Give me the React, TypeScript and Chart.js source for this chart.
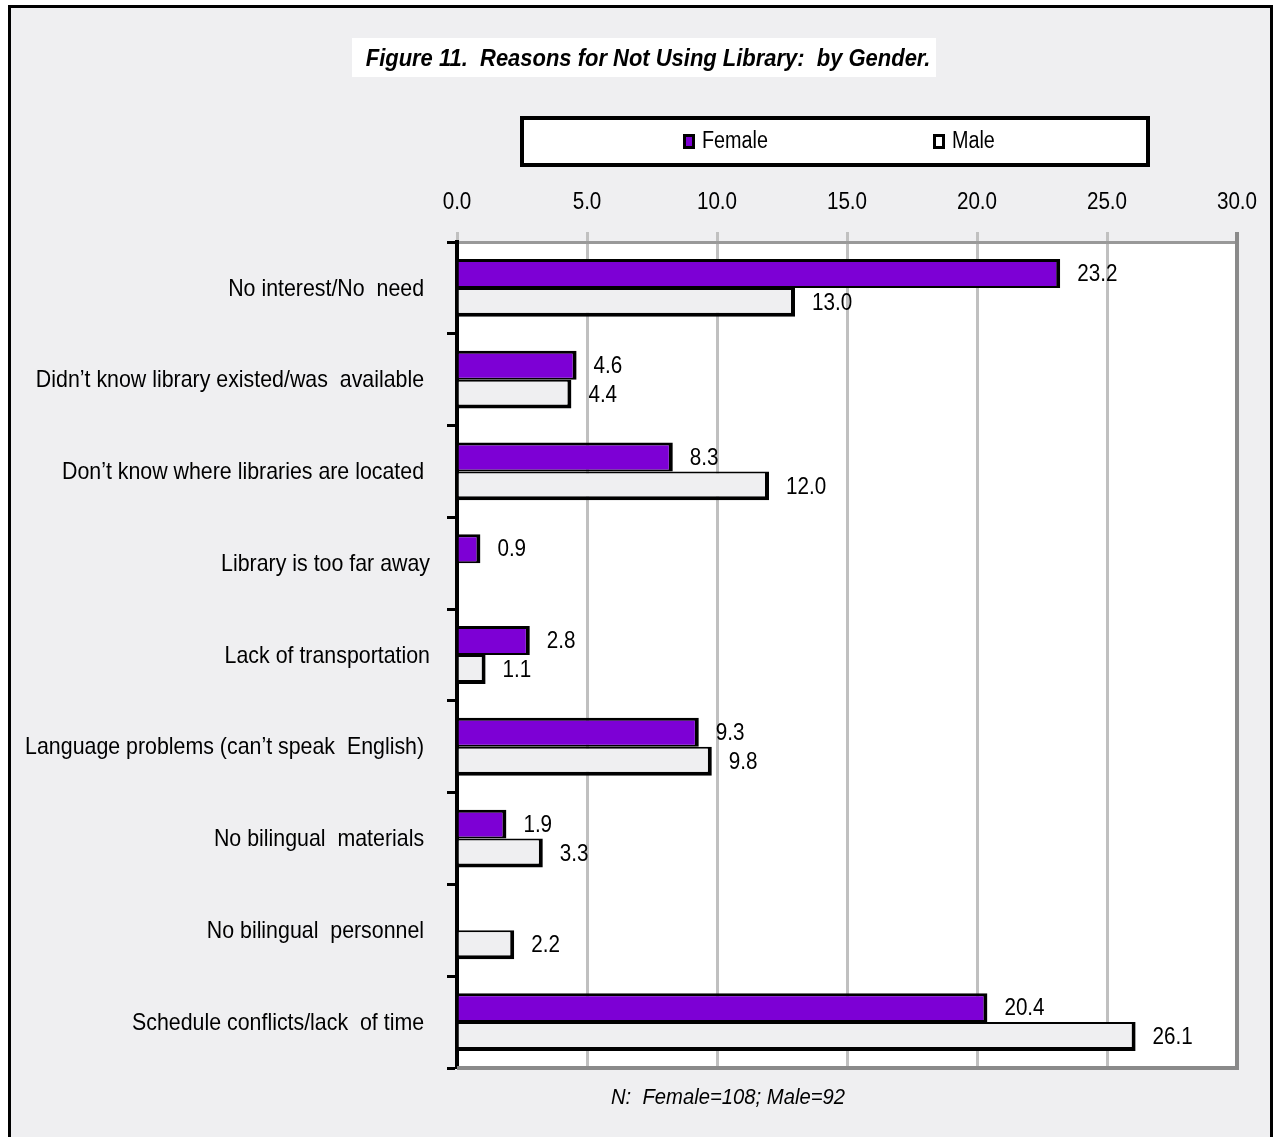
import React, { useEffect, useRef } from 'react';
import { Chart, registerables } from 'chart.js';

Chart.register(...registerables);

// Survey categories (trailing spaces keep the label alignment of the original layout)
const categories = [
  'No interest/No  need ',
  'Didn’t know library existed/was  available ',
  'Don’t know where libraries are located ',
  'Library is too far away',
  'Lack of transportation',
  'Language problems (can’t speak  English) ',
  'No bilingual  materials ',
  'No bilingual  personnel ',
  'Schedule conflicts/lack  of time ',
];

// Percent of respondents giving each reason
const femaleValues: (number | null)[] = [23.2, 4.6, 8.3, 0.9, 2.8, 9.3, 1.9, null, 20.4];
const maleValues: (number | null)[] = [13.0, 4.4, 12.0, null, 1.1, 9.8, 3.3, 2.2, 26.1];

const seriesNames = ['Female', 'Male'];
const axisMin = 0;
const axisMax = 30;
const axisStep = 5;

const titleText = 'Figure 11.  Reasons for Not Using Library:  by Gender.';
const noteText = 'N:  Female=108; Male=92';

// Arial-metric face, squeezed horizontally to give a narrow look
const FONT = '"Liberation Sans", Arial, sans-serif';
const SQUEEZE = 0.86;
const PURPLE = '#7D00D5';
const PANEL = '#EFEFF1';

function narrowText(
  ctx: CanvasRenderingContext2D,
  text: string,
  x: number,
  y: number,
  font: string,
  align: CanvasTextAlign,
  squeeze = SQUEEZE,
) {
  ctx.save();
  ctx.translate(x, y);
  ctx.scale(squeeze, 1);
  ctx.font = font;
  ctx.textAlign = align;
  ctx.textBaseline = 'middle';
  ctx.fillStyle = '#000';
  ctx.fillText(text, 0, 0);
  ctx.restore();
}

const decorations = {
  id: 'decorations',
  beforeDraw(chart: any) {
    const { ctx, chartArea } = chart;
    ctx.save();
    // outer frame
    ctx.fillStyle = '#FFFFFF';
    ctx.fillRect(0, 0, chart.width, chart.height);
    ctx.fillStyle = PANEL;
    ctx.fillRect(9.5, 6.5, 1262, 1140);
    ctx.strokeStyle = '#000';
    ctx.lineWidth = 3;
    ctx.strokeRect(9.5, 6.5, 1262, 1140);
    // plot background
    ctx.fillStyle = '#FFFFFF';
    ctx.fillRect(chartArea.left, chartArea.top, chartArea.right - chartArea.left, chartArea.bottom - chartArea.top);
    ctx.restore();
  },
  afterDatasetsDraw(chart: any) {
    const { ctx, chartArea } = chart;
    ctx.save();
    // right and bottom plot edges
    ctx.strokeStyle = '#8A8A8A';
    ctx.lineWidth = 4;
    ctx.beginPath();
    ctx.moveTo(chartArea.right, chartArea.top - 10);
    ctx.lineTo(chartArea.right, chartArea.bottom);
    ctx.lineTo(chartArea.left, chartArea.bottom);
    ctx.stroke();
    ctx.restore();

    // value labels at the bar ends
    chart.data.datasets.forEach((ds: any, di: number) => {
      const meta = chart.getDatasetMeta(di);
      meta.data.forEach((bar: any, i: number) => {
        const v = ds.data[i];
        if (v === null || v === undefined) return;
        narrowText(ctx, Number(v).toFixed(1), bar.x + 17, bar.y + 1, `24px ${FONT}`, 'left');
      });
    });
  },
  afterDraw(chart: any) {
    const { ctx } = chart;
    const xs = chart.scales.x;
    const ys = chart.scales.y;

    // value axis labels along the top
    xs.ticks.forEach((t: any) => {
      narrowText(ctx, Number(t.value).toFixed(1), xs.getPixelForValue(t.value), 202, `24px ${FONT}`, 'center');
    });
    // category labels
    chart.data.labels.forEach((lab: string, i: number) => {
      narrowText(ctx, lab, ys.left + ys.width - 27, ys.getPixelForTick(i) + 1, `24px ${FONT}`, 'right', 0.89);
    });

    ctx.save();
    // title box
    ctx.fillStyle = '#FFFFFF';
    ctx.fillRect(352, 38, 584, 39);
    ctx.restore();
    narrowText(ctx, titleText, 648, 59, `italic bold 24px ${FONT}`, 'center', 0.915);

    // legend box
    ctx.save();
    ctx.fillStyle = '#FFFFFF';
    ctx.fillRect(522, 118, 626, 47);
    ctx.strokeStyle = '#000';
    ctx.lineWidth = 4;
    ctx.strokeRect(522, 118, 626, 47);
    const entries = [
      { x: 683, ds: chart.data.datasets[0] },
      { x: 933, ds: chart.data.datasets[1] },
    ];
    entries.forEach((e) => {
      ctx.fillStyle = '#000';
      ctx.fillRect(e.x, 134, 12, 15);
      ctx.fillStyle = e.ds.backgroundColor === PANEL ? '#FFFFFF' : e.ds.backgroundColor;
      ctx.fillRect(e.x + 3, 137, 6, 9);
    });
    ctx.restore();
    entries.forEach((e) => {
      narrowText(ctx, e.ds.label, e.x + 19, 142, `23px ${FONT}`, 'left');
    });

    // sample size note
    narrowText(ctx, noteText, 728, 1098, `italic 22px ${FONT}`, 'center', 0.92);
  },
};

export default function App() {
  const ref = useRef<HTMLCanvasElement>(null);

  useEffect(() => {
    const canvas = ref.current;
    if (!canvas) return;
    const chart = new Chart(canvas, {
      type: 'bar',
      data: {
        labels: categories,
        datasets: [
          {
            label: seriesNames[0],
            data: femaleValues,
            backgroundColor: PURPLE,
            borderColor: '#000',
            borderWidth: { top: 3, right: 4, bottom: 2, left: 0 },
            borderSkipped: false,
            categoryPercentage: 0.63,
            barPercentage: 1.0,
          },
          {
            label: seriesNames[1],
            data: maleValues,
            backgroundColor: PANEL,
            borderColor: '#000',
            borderWidth: { top: 2, right: 4, bottom: 4, left: 0 },
            borderSkipped: false,
            categoryPercentage: 0.63,
            barPercentage: 1.0,
          },
        ],
      },
      options: {
        indexAxis: 'y',
        responsive: false,
        animation: false,
        devicePixelRatio: 1,
        layout: { padding: { left: 0, right: 38, top: 0, bottom: 69 } },
        plugins: {
          legend: { display: false },
          title: { display: false },
          tooltip: { enabled: false },
        },
        scales: {
          x: {
            position: 'top',
            min: axisMin,
            max: axisMax,
            ticks: {
              display: false,
              stepSize: axisStep,
            },
            grid: {
              color: (c: any) => (c.tick && c.tick.value === axisMax ? '#8A8A8A' : '#C0C0C0'),
              lineWidth: 3,
              tickLength: 10,
            },
            border: { color: '#999999', width: 3 },
            afterFit: (s: any) => {
              s.height = 242;
            },
          },
          y: {
            z: 1,
            ticks: {
              display: false,
              autoSkip: false,
            },
            grid: {
              drawOnChartArea: false,
              drawTicks: true,
              tickLength: 10,
              tickColor: '#000',
              tickWidth: 3,
              offset: true,
            },
            border: { color: '#000', width: 4 },
            afterFit: (s: any) => {
              s.width = 457;
            },
          },
        },
      },
      plugins: [decorations],
    } as any);
    return () => chart.destroy();
  }, []);

  return (
    <div style={{ position: 'absolute', left: 0, top: 0, width: 1275, height: 1137 }}>
      <canvas ref={ref} width={1275} height={1137} style={{ display: 'block', width: 1275, height: 1137 }} />
    </div>
  );
}
